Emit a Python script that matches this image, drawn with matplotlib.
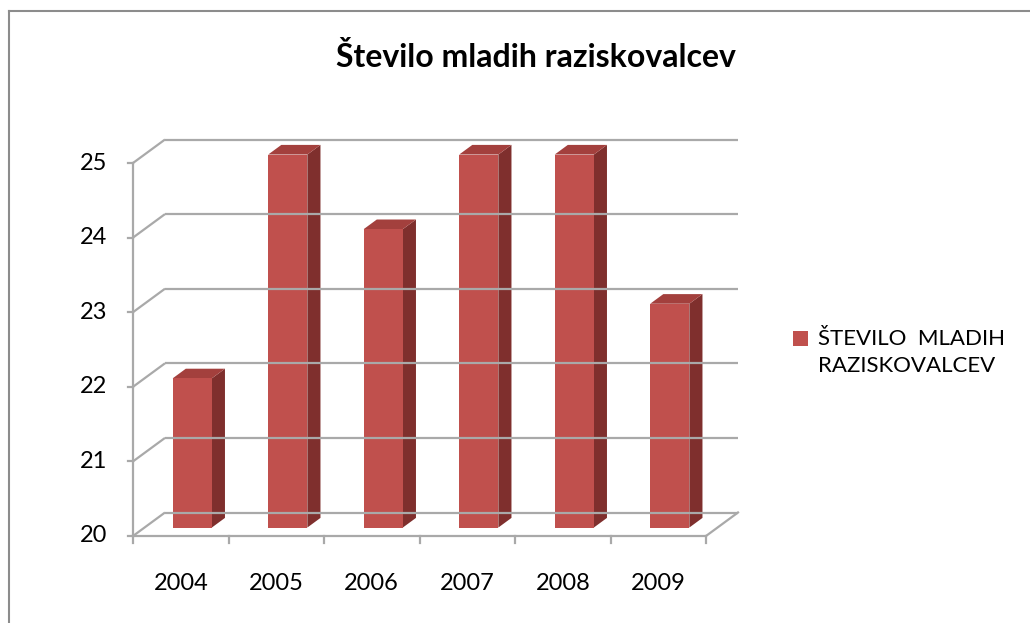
import matplotlib
matplotlib.use("Agg")
import matplotlib.pyplot as plt
from matplotlib.patches import Polygon
from matplotlib.lines import Line2D

# data
years = ["2004", "2005", "2006", "2007", "2008", "2009"]
counts = [22, 25, 24, 25, 25, 23]
y_ticks = [20, 21, 22, 23, 24, 25]
series_name = "ŠTEVILO  MLADIH\nRAZISKOVALCEV"
title = "Število mladih raziskovalcev"

W, H = 1030, 623
fig = plt.figure(figsize=(W / 100, H / 100), dpi=100)
ax = fig.add_axes([0, 0, 1, 1])

# category units across, value units up
px_x = 95.5      # pixels per category
px_y = 74.6      # pixels per value unit
x0_px, y0_px = 133, 536   # front-left corner of the floor
ax.set_xlim(-x0_px / px_x, (W - x0_px) / px_x)
ax.set_ylim(20 - (H - y0_px) / px_y, 20 + y0_px / px_y)
ax.axis("off")

# depth of the plot box (oblique projection)
dx, dy = 32 / px_x, 23.5 / px_y
grid_c = "#A9A9A9"
n = len(years)
ymin = y_ticks[0]
tick_font = dict(fontsize=17, family="Lato", color="#000000")

# back wall gridlines and the side connectors
for v in y_ticks:
    ax.plot([0, dx], [v, v + dy], color=grid_c, lw=1.6, solid_capstyle="butt")
    ax.plot([dx, n + dx], [v + dy, v + dy], color=grid_c, lw=1.6, solid_capstyle="butt")
    ax.plot([-5 / px_x, 0], [v, v], color=grid_c, lw=1.6)
    ax.text(-26 / px_x, v, str(v), ha="right", va="center", **tick_font)

# floor and axes
ax.plot([0, 0], [ymin, y_ticks[-1]], color=grid_c, lw=1.6)
ax.plot([0, n], [ymin, ymin], color=grid_c, lw=1.6)
ax.plot([n, n + dx], [ymin, ymin + dy], color=grid_c, lw=1.6)
for i in range(n + 1):
    ax.plot([i, i], [ymin, ymin - 7 / px_y], color=grid_c, lw=1.6)

# 3d columns
bw = 0.41
f1, f2 = 0.36, 0.77
front_c, side_c, top_c = "#C0504D", "#7F2F2D", "#A3403D"
for i, (yr, v) in enumerate(zip(years, counts)):
    cx = i + 0.5
    ox, oy = f1 * dx, f1 * dy
    bx, by = (f2 - f1) * dx, (f2 - f1) * dy
    l, r = cx - bw / 2 + ox, cx + bw / 2 + ox
    b, t = ymin + oy, v + oy
    ax.add_patch(Polygon([(r, b), (r + bx, b + by), (r + bx, t + by), (r, t)],
                         closed=True, fc=side_c, ec="none"))
    ax.add_patch(Polygon([(l, t), (r, t), (r + bx, t + by), (l + bx, t + by)],
                         closed=True, fc=top_c, ec="none"))
    ax.add_patch(Polygon([(l, b), (r, b), (r, t), (l, t)],
                         closed=True, fc=front_c, ec="none"))
    ax.text(cx, ymin - 47 / px_y, yr, ha="center", va="center", **tick_font)

# title
fig.text(536 / W, 1 - 57 / H, title, ha="center", va="center",
         fontsize=23, fontweight="bold", family="Lato")

# legend
fig.patches.append(plt.Rectangle((793 / W, 1 - 346 / H), 15 / W, 15 / H,
                                 transform=fig.transFigure, fc=front_c, ec="none"))
fig.text(818 / W, 1 - 329 / H, series_name, ha="left", va="top",
         fontsize=16, family="Lato", linespacing=1.45)

# chart frame
fig.lines.append(Line2D([8.5 / W, 8.5 / W], [0, 1 - 11 / H], transform=fig.transFigure,
                        color="#8C8C8C", lw=1.5))
fig.lines.append(Line2D([8.5 / W, 1], [1 - 11 / H, 1 - 11 / H], transform=fig.transFigure,
                        color="#8C8C8C", lw=1.5))

fig.savefig("out.png", dpi=100, facecolor="white")
